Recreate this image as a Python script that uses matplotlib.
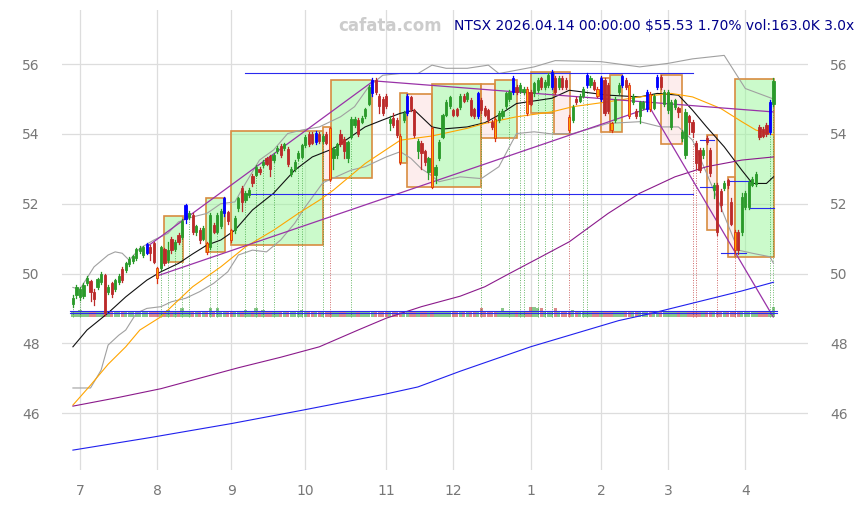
import matplotlib
matplotlib.use('Agg')
import matplotlib.pyplot as plt
from matplotlib.patches import Rectangle

# velas diarias: indice = dia de trading (27/06/2025 .. 14/04/2026)
opens = [49.12, 49.38, 49.33, 49.36, 49.72, 49.78, 49.48, 49.60, 49.76, 49.95,
         49.48, 49.72, 49.55, 49.76, 50.14, 50.10, 50.28, 50.36, 50.45, 50.64,
         50.53, 50.60, 50.77, 50.86, 50.17, 50.17, 50.70, 50.38, 51.00, 50.70,
         51.10, 51.05, 51.55, 51.62, 51.67, 51.20, 51.25, 51.00, 50.86, 50.77,
         51.40, 51.20, 51.35, 51.73, 51.75, 51.24, 51.25, 51.87, 52.45, 52.10,
         52.25, 52.80, 52.82, 53.00, 53.10, 53.30, 53.37, 53.25, 53.50, 53.66,
         53.60, 53.57, 52.85, 52.99, 53.30, 53.34, 53.68, 54.00, 54.00, 53.77,
         54.00, 53.80, 54.00, 54.16, 53.30, 53.40, 54.00, 53.86, 53.30, 53.92,
         54.25, 54.40, 54.35, 54.50, 54.87, 55.16, 55.54, 55.10, 55.00, 55.10,
         54.30, 54.45, 54.40, 53.94, 54.40, 54.60, 55.05, 54.68, 53.50, 53.73,
         53.50, 52.91, 54.16, 52.82, 53.30, 53.92, 54.54, 54.80, 54.68, 54.70,
         54.77, 55.10, 55.00, 54.97, 54.70, 54.50, 54.97, 54.75, 54.68, 54.35,
         54.44, 54.40, 54.50, 54.80, 55.00, 55.20, 55.35, 55.22, 55.20, 55.30,
         55.20, 55.16, 55.25, 55.59, 55.35, 55.40, 55.35, 55.60, 55.35, 55.60,
         55.55, 54.49, 54.40, 55.00, 54.95, 55.10, 55.40, 55.40, 55.50, 55.30,
         55.00, 55.54, 55.40, 54.30, 54.40, 55.20, 55.40, 55.55, 55.40, 54.90,
         54.65, 54.50, 54.75, 54.70, 55.15, 54.75, 55.35, 55.64, 54.87, 54.68,
         54.20, 54.78, 54.73, 53.87, 53.39, 54.50, 54.35, 53.73, 53.54, 53.39,
         53.88, 53.54, 52.40, 52.54, 52.37, 52.45, 52.68, 52.05, 51.20, 51.20,
         51.20, 51.90, 51.90, 52.55, 52.56, 54.20, 54.15, 54.25, 54.06, 54.87]
highs = [49.38, 49.66, 49.62, 49.72, 49.92, 49.82, 49.55, 49.88, 50.05, 50.00,
         49.66, 49.76, 49.84, 49.98, 50.18, 50.34, 50.46, 50.54, 50.74, 50.78,
         50.80, 50.88, 50.82, 50.90, 50.20, 50.80, 50.74, 50.90, 51.05, 50.96,
         51.15, 51.55, 52.00, 51.78, 51.72, 51.40, 51.30, 51.35, 50.90, 51.72,
         51.45, 51.72, 51.85, 52.20, 51.80, 51.28, 51.65, 52.20, 52.50, 52.35,
         52.45, 52.85, 53.10, 53.05, 53.25, 53.35, 53.40, 53.45, 53.65, 53.70,
         53.75, 53.62, 53.05, 53.25, 53.50, 53.72, 53.96, 54.05, 54.05, 54.08,
         54.05, 54.00, 54.05, 54.20, 53.62, 53.74, 54.10, 53.90, 53.80, 54.48,
         54.48, 54.45, 54.50, 54.75, 55.40, 55.60, 55.60, 55.15, 55.05, 55.15,
         54.50, 54.60, 54.45, 54.00, 54.65, 55.15, 55.10, 54.72, 53.85, 53.80,
         53.55, 53.35, 54.20, 53.10, 53.82, 54.58, 54.96, 55.10, 54.72, 54.75,
         55.15, 55.15, 55.20, 55.02, 54.75, 55.20, 55.02, 54.80, 54.72, 54.40,
         54.48, 54.65, 54.70, 55.20, 55.25, 55.65, 55.40, 55.45, 55.35, 55.35,
         55.25, 55.50, 55.60, 55.64, 55.55, 55.74, 55.82, 55.65, 55.65, 55.65,
         55.60, 54.55, 54.82, 55.05, 55.15, 55.35, 55.75, 55.65, 55.55, 55.35,
         55.65, 55.60, 55.45, 54.35, 55.05, 55.45, 55.70, 55.60, 55.45, 55.15,
         54.70, 54.95, 54.95, 55.25, 55.20, 55.15, 55.68, 55.70, 55.25, 55.25,
         54.96, 55.00, 54.78, 54.10, 54.70, 54.55, 54.40, 53.80, 53.60, 53.60,
         53.95, 53.60, 52.60, 52.60, 52.42, 52.65, 52.72, 52.15, 51.25, 51.25,
         52.30, 52.35, 52.68, 52.76, 52.90, 54.25, 54.20, 54.30, 54.97, 55.60]
lows = [49.05, 49.30, 49.25, 49.30, 49.66, 49.20, 49.10, 49.55, 49.70, 48.80,
        49.40, 49.32, 49.50, 49.70, 49.76, 50.04, 50.22, 50.30, 50.40, 50.58,
        50.48, 50.55, 50.38, 50.30, 49.72, 50.10, 50.24, 50.32, 50.60, 50.64,
        50.84, 51.00, 51.45, 51.55, 51.12, 51.10, 50.88, 50.95, 50.55, 50.70,
        51.15, 51.15, 51.30, 51.65, 51.42, 50.90, 51.15, 51.80, 51.80, 52.05,
        52.20, 52.50, 52.78, 52.85, 53.05, 53.10, 52.80, 53.20, 53.45, 53.35,
        53.55, 53.08, 52.80, 52.95, 53.25, 53.30, 53.62, 53.65, 53.70, 53.72,
        53.75, 53.75, 53.70, 52.65, 53.00, 53.30, 53.65, 53.30, 53.20, 53.88,
        54.20, 53.95, 54.30, 54.45, 54.82, 55.10, 55.15, 54.60, 54.55, 54.75,
        54.10, 54.20, 53.90, 53.15, 54.35, 54.55, 54.65, 53.90, 53.30, 53.00,
        53.10, 52.70, 52.45, 52.60, 53.25, 53.88, 54.50, 54.75, 54.50, 54.50,
        54.72, 54.90, 54.95, 54.50, 54.45, 54.45, 54.60, 54.50, 54.35, 54.15,
        53.80, 54.35, 54.45, 54.75, 54.95, 55.15, 55.15, 55.18, 55.15, 54.55,
        54.82, 55.10, 55.20, 55.30, 55.30, 55.35, 55.30, 55.15, 55.30, 55.30,
        55.30, 54.05, 54.35, 54.85, 54.90, 55.05, 55.35, 55.35, 55.25, 55.05,
        54.95, 54.55, 54.60, 54.05, 54.35, 55.15, 55.35, 55.30, 54.45, 54.85,
        54.45, 54.30, 54.70, 54.65, 54.65, 54.70, 55.30, 55.30, 54.80, 54.60,
        54.15, 54.72, 54.49, 53.80, 53.30, 54.00, 53.90, 53.00, 52.90, 53.30,
        53.70, 52.80, 52.16, 51.10, 51.80, 52.40, 52.45, 51.40, 50.60, 50.55,
        51.10, 51.85, 51.85, 52.50, 52.50, 53.85, 53.90, 53.95, 54.00, 54.80]
closes = [49.30, 49.62, 49.57, 49.68, 49.88, 49.48, 49.28, 49.84, 50.00, 48.88,
          49.60, 49.40, 49.80, 49.94, 49.82, 50.30, 50.42, 50.50, 50.70, 50.74,
          50.77, 50.84, 50.60, 50.34, 49.88, 50.75, 50.30, 50.66, 50.66, 50.90,
          50.90, 51.50, 51.95, 51.72, 51.20, 51.35, 50.95, 51.30, 50.62, 51.67,
          51.20, 51.67, 51.80, 52.16, 51.50, 50.96, 51.60, 52.16, 52.05, 52.30,
          52.40, 52.59, 53.06, 52.90, 53.20, 53.15, 53.00, 53.40, 53.60, 53.40,
          53.70, 53.14, 52.99, 53.20, 53.45, 53.68, 53.92, 53.70, 53.75, 54.02,
          53.80, 53.95, 53.75, 52.70, 53.58, 53.70, 53.70, 53.50, 53.76, 54.44,
          54.44, 54.00, 54.45, 54.70, 55.35, 55.54, 55.20, 54.80, 54.60, 54.80,
          54.44, 54.25, 53.97, 53.20, 54.60, 55.10, 54.70, 53.97, 53.80, 53.44,
          53.20, 53.30, 52.49, 53.06, 53.77, 54.54, 54.92, 55.06, 54.54, 54.55,
          55.10, 54.95, 55.16, 54.54, 54.50, 55.16, 54.68, 54.55, 54.44, 54.20,
          53.87, 54.60, 54.65, 55.16, 55.20, 55.59, 55.20, 55.40, 55.30, 54.60,
          54.87, 55.45, 55.55, 55.35, 55.50, 55.70, 55.78, 55.20, 55.60, 55.35,
          55.35, 54.11, 54.78, 54.90, 55.10, 55.30, 55.70, 55.60, 55.30, 55.10,
          55.60, 54.59, 54.65, 54.10, 55.00, 55.40, 55.65, 55.35, 54.50, 55.10,
          54.50, 54.90, 54.90, 55.20, 54.70, 55.10, 55.64, 55.35, 55.20, 55.20,
          54.92, 54.97, 54.63, 54.06, 54.64, 54.35, 54.05, 53.16, 52.97, 53.54,
          53.77, 52.87, 52.54, 51.20, 51.95, 52.60, 52.54, 51.43, 50.67, 50.67,
          52.20, 52.30, 52.63, 52.72, 52.85, 53.92, 53.95, 54.00, 54.92, 55.53]
# volumen (miles)
vols = [110, 85, 115, 80, 85, 90, 85, 80, 85, 95,
        85, 90, 80, 85, 90, 85, 80, 85, 90, 85,
        80, 85, 90, 95, 90, 110, 85, 120, 85, 110,
        85, 160, 90, 110, 90, 85, 90, 80, 90, 155,
        85, 150, 85, 95, 85, 85, 90, 85, 90, 115,
        85, 90, 150, 85, 115, 85, 90, 110, 85, 80,
        85, 90, 85, 80, 110, 125, 85, 90, 85, 80,
        85, 105, 90, 110, 85, 90, 85, 90, 85, 110,
        85, 90, 80, 85, 90, 95, 90, 85, 90, 85,
        90, 85, 90, 95, 85, 90, 85, 95, 85, 90,
        95, 85, 100, 85, 90, 85, 90, 80, 85, 90,
        85, 90, 85, 90, 85, 90, 160, 85, 90, 85,
        90, 85, 155, 85, 110, 90, 85, 105, 110, 90,
        165, 165, 160, 160, 110, 90, 105, 160, 90, 85,
        90, 95, 115, 85, 90, 105, 105, 85, 90, 85,
        90, 95, 90, 85, 90, 85, 90, 85, 90, 85,
        90, 85, 90, 85, 90, 85, 90, 85, 90, 85,
        90, 85, 90, 85, 90, 95, 110, 110, 90, 85,
        90, 85, 90, 100, 110, 90, 85, 90, 100, 90,
        85, 90, 85, 90, 85, 90, 85, 95, 100, 163]

blue_idx = [21, 32, 43, 69, 85, 95, 115, 125, 136, 146, 150, 156, 163, 166, 198]
orange_idx = [24, 38, 45, 73, 93, 102, 120, 129, 141, 149, 153, 158, 164, 188]
signal_up = [0, 2, 25, 27, 29, 31, 33, 39, 41, 49, 52, 54, 57, 64, 65, 71, 79,
             116, 124, 127, 128, 132, 134, 136, 145, 146, 198, 199]
signal_dn = [73, 141, 176, 177, 183, 188]

month_pos = [2, 24, 45, 66, 89, 108, 130, 150, 169, 191]
month_lbl = ['7', '8', '9', '10', '11', '12', '1', '2', '3', '4']

# medias y bandas (dia, valor)
ma20 = [(0, 47.9), (4, 48.38), (10, 48.87), (15, 49.33), (21, 49.81), (25, 50.05),
        (30, 50.29), (34, 50.56), (38, 50.81), (42, 50.96), (46, 51.24), (51, 51.82),
        (57, 52.3), (63, 52.96), (68, 53.34), (74, 53.58), (83, 54.2), (88, 54.4),
        (93, 54.59), (97, 54.68), (102, 54.2), (105, 54.14), (112, 54.2), (117, 54.32),
        (121, 54.54), (126, 54.87), (136, 55.02), (141, 55.25), (152, 55.11),
        (161, 55.06), (166, 55.16), (172, 55.11), (176, 54.68), (180, 54.2),
        (185, 53.63), (190, 52.96), (193, 52.58), (197, 52.58), (199, 52.77)]
ma50 = [(0, 46.23), (5, 46.8), (10, 47.4), (15, 47.9), (19, 48.38), (25, 48.76),
        (28, 49.05), (34, 49.62), (42, 50.19), (49, 50.76), (57, 51.24), (64, 51.72),
        (70, 52.1), (74, 52.39), (83, 53.15), (93, 53.82), (102, 53.94), (112, 54.16),
        (117, 54.3), (126, 54.49), (136, 54.63), (142, 54.78), (152, 54.92),
        (161, 55.06), (170, 55.16), (176, 55.06), (184, 54.73), (190, 54.35),
        (194, 54.11), (199, 53.97)]
ma100 = [(0, 46.2), (13, 46.45), (25, 46.7), (36, 47.0), (47, 47.3), (59, 47.6),
         (70, 47.9), (81, 48.38), (89, 48.72), (99, 49.05), (110, 49.35), (117, 49.62),
         (124, 50.0), (133, 50.48), (141, 50.91), (152, 51.72), (161, 52.3),
         (171, 52.77), (180, 53.06), (190, 53.25), (199, 53.34)]
ma200 = [(0, 44.94), (22, 45.3), (45, 45.7), (65, 46.08), (89, 46.55), (98, 46.75),
         (110, 47.2), (130, 47.9), (146, 48.38), (155, 48.65), (164, 48.85),
         (176, 49.15), (190, 49.5), (199, 49.75)]
bb_up = [(0, 49.6), (2, 49.55), (6, 50.19), (10, 50.53), (12, 50.62), (14, 50.58),
         (16, 50.38), (19, 50.72), (23, 50.96), (27, 51.15), (30, 51.48), (34, 51.62),
         (38, 51.72), (42, 52.0), (46, 52.05), (49, 52.58), (53, 53.25), (57, 53.54),
         (61, 54.01), (65, 54.11), (70, 54.2), (76, 54.49), (80, 54.78), (84, 55.35),
         (88, 55.68), (93, 55.73), (98, 55.73), (102, 55.97), (106, 55.88),
         (112, 55.88), (118, 55.97), (121, 55.73), (131, 55.92), (137, 56.1),
         (150, 56.07), (161, 55.92), (169, 56.02), (176, 56.15), (185, 56.25),
         (191, 55.3), (199, 55.0)]
bb_dn = [(0, 46.72), (5, 46.72), (8, 47.23), (10, 47.95), (13, 48.23), (15, 48.38),
         (18, 48.86), (21, 49.0), (25, 49.05), (28, 49.19), (32, 49.29), (36, 49.48),
         (40, 49.72), (44, 50.05), (47, 50.53), (51, 50.67), (55, 50.62), (59, 50.96),
         (63, 51.44), (66, 51.91), (71, 52.6), (79, 52.96), (83, 53.06), (89, 53.34),
         (93, 53.49), (96, 53.3), (99, 53.0), (101, 52.87), (104, 52.63), (110, 52.77),
         (116, 52.72), (121, 53.06), (126, 54.01), (131, 54.06), (136, 54.0),
         (142, 54.01), (152, 54.3), (161, 54.35), (167, 54.2), (172, 54.2),
         (176, 53.82), (180, 52.87), (184, 51.91), (189, 50.67), (193, 50.58),
         (198, 50.48), (199, 50.29)]

# cajas (inicio, fin, min, max, tipo)
boxes = [(25.85, 31.25, 50.32, 51.64, 'g'), (37.8, 43.2, 50.63, 52.15, 'g'),
         (44.9, 71.0, 50.81, 54.08, 'g'), (71.0, 73.3, 52.68, 54.2, 'r'),
         (73.3, 84.9, 52.73, 55.54, 'g'), (92.9, 94.9, 53.16, 55.17, 'g'),
         (94.9, 102.0, 52.48, 55.15, 'r'), (102.0, 115.9, 52.48, 55.43, 'g'),
         (115.9, 119.9, 53.87, 55.43, 'r'), (119.9, 126.1, 53.87, 55.54, 'g'),
         (130.1, 136.6, 54.59, 55.78, 'g'), (136.6, 141.2, 54.01, 55.78, 'r'),
         (150.0, 152.6, 54.06, 55.59, 'r'), (152.6, 156.0, 54.06, 55.7, 'g'),
         (167.0, 173.0, 53.7, 55.68, 'r'), (180.1, 183.0, 51.24, 53.97, 'r'),
         (186.1, 188.1, 50.48, 52.77, 'r'), (188.1, 199.1, 50.48, 55.56, 'g')]

# lineas de tendencia (x0, y0, x1, y1)
trends = [(21.2, 50.78, 85.4, 55.52), (23.9, 49.93, 163.9, 54.75),
          (85.4, 55.52, 198.9, 54.63), (163.9, 54.75, 198.9, 48.76)]
# niveles horizontales (x0, x1, y)
levels = [(48.9, 176.1, 55.74), (48.9, 176.1, 52.27), (178.1, 182.1, 53.82),
          (178.1, 182.1, 52.47), (186.0, 191.7, 52.64), (184.1, 191.2, 50.6),
          (192.0, 199.1, 51.87), (-0.9, 200.0, 48.92), (-0.9, 200.0, 48.86)]

GREEN = '#2a9a2a'
RED = '#bb2a2a'

fig = plt.figure(figsize=(8.64, 5.05), dpi=100)
ax = fig.add_axes([62 / 864, 35 / 505, 746 / 864, 460 / 505])

for x0, x1, lo, hi, kind in boxes:
    fc = (0.6, 0.97, 0.6, 0.5) if kind == 'g' else (0.99, 0.85, 0.85, 0.45)
    ax.add_patch(Rectangle((x0, lo), x1 - x0, hi - lo, facecolor=fc,
                           edgecolor='#d88c40', linewidth=1.2, zorder=1))


def draw_pts(pts, color, lw=0.8):
    ax.plot([p[0] for p in pts], [p[1] for p in pts], color=color, lw=lw, zorder=3)


draw_pts(bb_up, '#a0a0a0')
draw_pts(bb_dn, '#a0a0a0')
draw_pts(ma20, '#111111')
draw_pts(ma50, '#ffa500')
draw_pts(ma100, '#8b1a8b')
draw_pts(ma200, '#2020ee')

for x0, y0, x1, y1 in trends:
    ax.plot([x0, x1], [y0, y1], color='#9932a8', lw=0.9, zorder=3)
for x0, x1, y in levels:
    ax.plot([x0, x1], [y, y], color='#2a2aee', lw=0.8, zorder=3)

# volumen en la parte baja
vbase = 48.76
vscale = 0.27 / max(vols)
for i, v in enumerate(vols):
    col = GREEN if closes[i] >= opens[i] else RED
    ax.bar(i, v * vscale, bottom=vbase, width=0.92, color=col, alpha=0.55,
           linewidth=0, zorder=2)

for i in signal_up:
    ax.plot([i, i], [vbase, lows[i]], color=GREEN, lw=0.7, ls=(0, (1, 1.5)),
            alpha=0.7, zorder=2)
for i in signal_dn:
    ax.plot([i, i], [vbase, lows[i]], color=RED, lw=0.7, ls=(0, (1, 1.5)),
            alpha=0.7, zorder=2)

# velas
for i in range(len(closes)):
    o, h, l, c = opens[i], highs[i], lows[i], closes[i]
    if i in blue_idx:
        col, ec = '#0000ff', '#0000ff'
    elif i in orange_idx:
        col, ec = '#ffa500', '#dd3311'
    else:
        col = GREEN if c >= o else RED
        ec = col
    ax.plot([i, i], [l, h], color=ec, lw=0.9, zorder=4)
    ax.bar(i, max(abs(c - o), 0.02), bottom=min(o, c), width=0.62,
           color=col, edgecolor=ec, linewidth=0.6, zorder=5)

ax.set_xlim(-3.1, 208.8)
ax.set_ylim(44.37, 57.55)
ax.set_yticks([46, 48, 50, 52, 54, 56])
ax.set_xticks(month_pos)
ax.set_xticklabels(month_lbl)
ax.grid(True, color='#dddddd', lw=0.9, zorder=0)
ax.set_axisbelow(True)
for s in ax.spines.values():
    s.set_visible(False)
ax.tick_params(axis='both', length=0, labelsize=10, labelcolor='#777777')
ax.tick_params(axis='y', labelleft=True, labelright=True, pad=16)
ax.tick_params(axis='x', pad=10)

fig.text(338 / 864, 1 - 26 / 505, 'cafata.com', color='#cccccc', fontsize=12,
         fontweight='bold', va='center', ha='left')
fig.text(454 / 864, 1 - 26 / 505, 'NTSX 2026.04.14 00:00:00 $55.53 1.70% vol:163.0K 3.0x',
         color='#00008b', fontsize=10, va='center', ha='left')

fig.savefig('out.png', dpi=100)
